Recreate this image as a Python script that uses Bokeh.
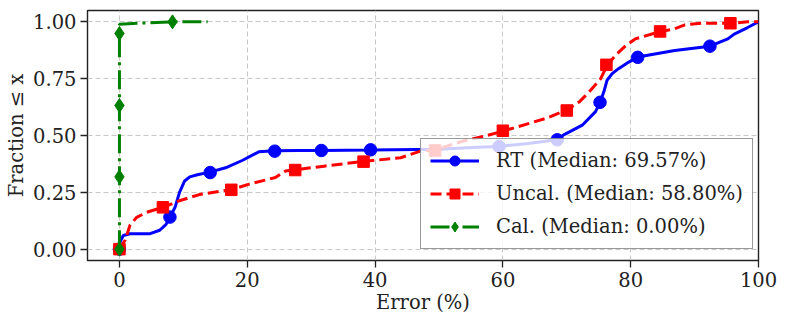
from bokeh.plotting import figure
from bokeh.models import Range1d, FixedTicker, NumeralTickFormatter, Legend, LegendItem
from bokeh.embed import file_html
from bokeh.resources import INLINE

# ---- data ----
rt_x = [0, 0.1, 0.6, 1.65, 4.8, 6.3, 7.3, 7.9, 8.7, 9.4, 10.2, 11.0, 12.2, 14.3, 16.6, 19.2,
        21.8, 24.3, 28, 31.6, 39.3, 50, 56, 59.4, 64, 68.4, 69.6, 72.5, 74.5, 75.2, 75.8,
        76.3, 77.1, 78.1, 79.7, 81.1, 86.9, 92.4, 95.2, 96.2, 98.3, 100]
rt_y = [0, 0.032, 0.06, 0.068, 0.068, 0.083, 0.109, 0.141, 0.184, 0.25, 0.30, 0.318, 0.327,
        0.34, 0.358, 0.39, 0.428, 0.433, 0.434, 0.434, 0.436, 0.44, 0.448, 0.452, 0.465,
        0.481, 0.504, 0.547, 0.605, 0.645, 0.692, 0.743, 0.772, 0.794, 0.823, 0.845, 0.874,
        0.893, 0.925, 0.946, 0.975, 1.0]
rt_mx = [0, 7.9, 14.2, 24.3, 31.6, 39.3, 59.4, 68.5, 75.2, 81.1, 92.4]
rt_my = [0, 0.141, 0.337, 0.431, 0.434, 0.437, 0.452, 0.481, 0.646, 0.844, 0.893]

un_x = [0, 0.9, 1.65, 2.7, 4.25, 6.8, 9.4, 12.5, 17.5, 20.3, 24.4, 26, 27.5, 32, 38.2, 44,
        47.1, 49.3, 53.9, 57, 60.0, 64.2, 66.8, 70, 72, 73.5, 75.3, 76.3, 77.6, 79.2, 80.7,
        84.6, 86.7, 88.5, 91.1, 95.7, 98.3, 100]
un_y = [0, 0.04, 0.105, 0.14, 0.162, 0.184, 0.213, 0.24, 0.262, 0.286, 0.315, 0.344, 0.349,
        0.365, 0.386, 0.402, 0.431, 0.435, 0.477, 0.496, 0.519, 0.554, 0.576, 0.612, 0.649,
        0.692, 0.75, 0.808, 0.852, 0.895, 0.925, 0.957, 0.968, 0.987, 0.994, 0.994, 1.0, 1.0]
un_mx = [0, 6.8, 17.5, 27.5, 38.2, 49.4, 60.0, 70.0, 76.2, 84.6, 95.6]
un_my = [0, 0.184, 0.261, 0.348, 0.385, 0.434, 0.521, 0.61, 0.811, 0.958, 0.994]

ca_x = [0, 0, 3, 8.3, 13.8]
ca_y = [0, 0.99, 0.994, 1.0, 1.0]
ca_mx = [0, 0, 0, 0, 8.3]
ca_my = [0, 0.318, 0.632, 0.949, 1.0]

labels = ["RT (Median: 69.57%)", "Uncal. (Median: 58.80%)", "Cal. (Median: 0.00%)"]
x_ticks = [0, 20, 40, 60, 80, 100]
y_ticks = [0, 0.25, 0.5, 0.75, 1.0]

FONT = "DejaVu Serif"
FS = "19.5px"

p = figure(width=777, height=318, output_backend="svg", toolbar_location=None,
           x_range=Range1d(-5, 100), y_range=Range1d(-0.05, 1.05),
           min_border_left=87, min_border_right=19, min_border_top=10, min_border_bottom=58)
p.background_fill_color = "white"
p.border_fill_color = "white"
p.outline_line_color = "#222222"
p.outline_line_width = 1.4

for ax in (p.xaxis, p.yaxis):
    ax.major_label_text_font = FONT
    ax.major_label_text_font_size = FS
    ax.major_label_text_color = "#222222"
    ax.axis_label_text_font = FONT
    ax.axis_label_text_font_size = FS
    ax.axis_label_text_font_style = "normal"
    ax.axis_label_text_color = "#222222"
    ax.axis_line_color = None
    ax.major_tick_out = 7
    ax.major_tick_in = 0
    ax.major_tick_line_width = 1.3
    ax.major_tick_line_color = "#222222"
    ax.minor_tick_line_color = None

p.xaxis.ticker = FixedTicker(ticks=x_ticks)
p.yaxis.ticker = FixedTicker(ticks=y_ticks)
p.yaxis.formatter = NumeralTickFormatter(format="0.00")
p.xaxis.axis_label = "Error (%)"
p.yaxis.axis_label = "Fraction ≤ x"
p.yaxis.major_label_standoff = 4
p.yaxis.axis_label_standoff = 2
p.xaxis.major_label_standoff = 4
p.xaxis.axis_label_standoff = 1

p.xgrid.ticker = FixedTicker(ticks=x_ticks)
p.ygrid.ticker = FixedTicker(ticks=y_ticks)
for g in (p.xgrid, p.ygrid):
    g.grid_line_color = "#c8c8c8"
    g.grid_line_dash = "5 3"
    g.grid_line_width = 1

l1 = p.line(rt_x, rt_y, line_color="#0000ff", line_width=3)
m1 = p.scatter(rt_mx, rt_my, marker="circle", size=12.5, fill_color="#0000ff", line_color="#0000ff")
l2 = p.line(un_x, un_y, line_color="#ff0000", line_width=3, line_dash="11 5")
m2 = p.scatter(un_mx, un_my, marker="square", size=11.5, fill_color="#ff0000", line_color="#ff0000")
l3 = p.line(ca_x, ca_y, line_color="#008000", line_width=3, line_dash="19 5 3 5")
m3 = p.scatter(ca_mx, ca_my, marker="diamond", size=14, fill_color="#008000", line_color="#008000")

legend = Legend(items=[LegendItem(label=labels[0], renderers=[l1, m1]),
                       LegendItem(label=labels[1], renderers=[l2, m2]),
                       LegendItem(label=labels[2], renderers=[l3, m3])],
                location=(333, 11))
legend.label_text_font = FONT
legend.label_text_font_size = FS
legend.label_text_color = "#222222"
legend.glyph_width = 49
legend.glyph_height = 25
legend.label_height = 25
legend.label_standoff = 17
legend.spacing = 8
legend.padding = 9
legend.margin = 0
legend.border_line_color = "#333333"
legend.border_line_width = 1.3
legend.background_fill_color = "white"
legend.background_fill_alpha = 0.8
p.add_layout(legend, "center")

open("out.html", "w").write(file_html(p, INLINE))
